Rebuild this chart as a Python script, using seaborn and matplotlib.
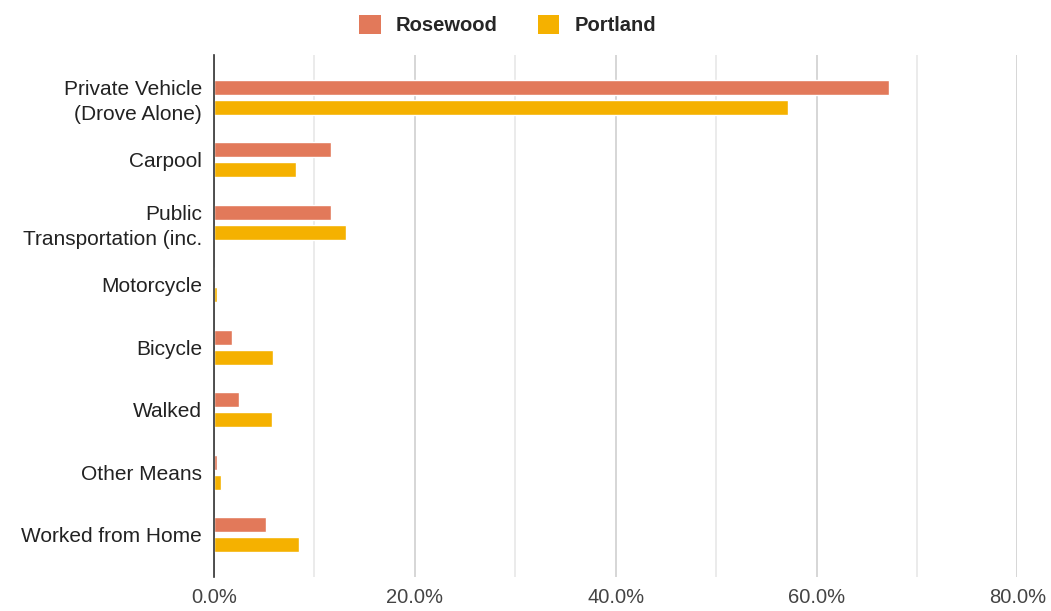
import matplotlib
matplotlib.use("Agg")
import matplotlib.pyplot as plt
from matplotlib.ticker import MultipleLocator, FuncFormatter
from matplotlib.patches import Patch
import seaborn as sns
import pandas as pd

# Commute mode share (% of workers)
modes = [
    "Private Vehicle\n(Drove Alone)",
    "Carpool",
    "Public\nTransportation (inc.",
    "Motorcycle",
    "Bicycle",
    "Walked",
    "Other Means",
    "Worked from Home",
]
rosewood = [67.2, 11.65, 11.65, 0.0, 1.75, 2.5, 0.3, 5.2]
portland = [57.2, 8.2, 13.1, 0.33, 5.9, 5.75, 0.65, 8.45]
series = ["Rosewood", "Portland"]
colors = {"Rosewood": "#E2795A", "Portland": "#F5B100"}

df = pd.DataFrame({
    "mode": modes * 2,
    "share": rosewood + portland,
    "place": [series[0]] * len(modes) + [series[1]] * len(modes),
})

sns.set_style("white")
plt.rcParams["font.family"] = ["Liberation Sans", "DejaVu Sans"]

fig = plt.figure(figsize=(10.51, 6.11), dpi=100)
ax = fig.add_axes([0.2036, 0.0556, 0.9680 - 0.2036, 0.91 - 0.0556])

sns.barplot(data=df, y="mode", x="share", hue="place", order=modes,
            hue_order=series, palette=colors, orient="h", width=0.64,
            gap=0.25, ax=ax, legend=False, saturation=1)

ax.set_xlim(0, 80)
ax.set_ylim(7.68, -0.68)
ax.set_xlabel("")
ax.set_ylabel("")

# gridlines every 10%, labels every 20%
ax.xaxis.set_major_locator(MultipleLocator(20))
ax.xaxis.set_minor_locator(MultipleLocator(10))
ax.xaxis.set_major_formatter(FuncFormatter(lambda v, p: f"{v:.1f}%"))
ax.grid(axis="x", which="major", color="#cccccc", linewidth=1.1)
ax.grid(axis="x", which="minor", color="#e6e6e6", linewidth=1.1)
ax.set_axisbelow(True)

for side in ["top", "right", "bottom"]:
    ax.spines[side].set_visible(False)
ax.spines["left"].set_color("#333333")
ax.spines["left"].set_linewidth(1.2)
ax.spines["left"].set_zorder(5)

ax.tick_params(axis="both", which="both", length=0)
ax.tick_params(axis="y", labelsize=15, labelcolor="#222222", pad=8.5)
ax.tick_params(axis="x", labelsize=14.5, labelcolor="#444444", pad=8)
for lbl in ax.get_yticklabels():
    lbl.set_horizontalalignment("right")
    lbl.set_multialignment("right")
    lbl.set_linespacing(1.4)

handles = [Patch(facecolor=colors[s], edgecolor="none", label=s) for s in series]
fig.legend(handles=handles, loc="upper center", bbox_to_anchor=(0.483, 1.0),
           ncol=2, frameon=False, handlelength=1.05, handleheight=1.05,
           handletextpad=0.75, columnspacing=2.0, borderaxespad=0.35,
           prop={"weight": "bold", "size": 14.5})

fig.savefig("out.png", dpi=100, facecolor="white")
